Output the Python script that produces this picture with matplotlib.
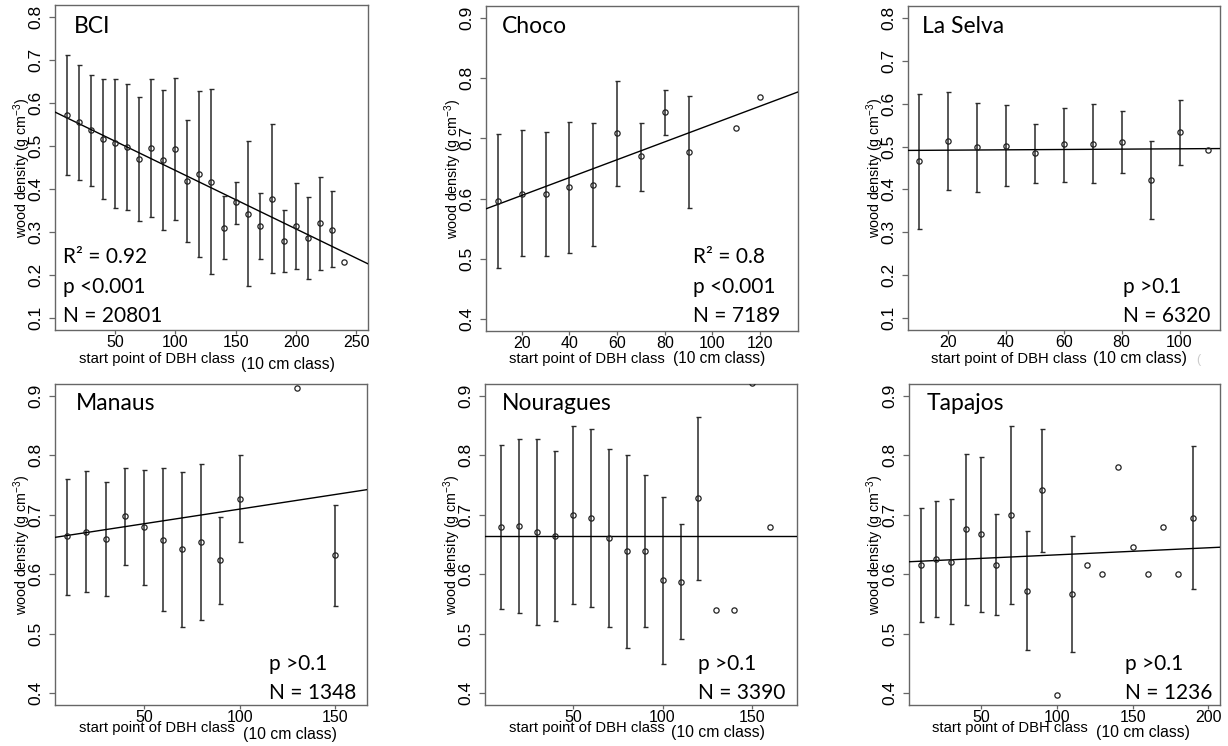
import numpy as np
import matplotlib
matplotlib.use("Agg")
import matplotlib.pyplot as plt

plt.rcParams['font.family'] = ['Liberation Sans', 'DejaVu Sans']
plt.rcParams['mathtext.fontset'] = 'custom'
plt.rcParams['mathtext.rm'] = 'Liberation Sans'
plt.rcParams['mathtext.it'] = 'Liberation Sans:italic'

N = None
# ---------------- data ----------------
bci_x = [10, 20, 30, 40, 50, 60, 70, 80, 90, 100, 110, 120, 130, 140, 150, 160, 170, 180, 190, 200, 210, 220, 230, 240]
bci_mean = [0.573, 0.555, 0.537, 0.516, 0.507, 0.498, 0.470, 0.495, 0.467, 0.492, 0.419, 0.435, 0.417, 0.310,
            0.369, 0.342, 0.314, 0.377, 0.280, 0.313, 0.286, 0.320, 0.305, 0.230]
bci_hi = [0.712, 0.688, 0.666, 0.655, 0.657, 0.645, 0.613, 0.655, 0.630, 0.659, 0.561, 0.628, 0.633, 0.384,
          0.416, 0.511, 0.391, 0.551, 0.352, 0.413, 0.382, 0.428, 0.395, N]
bci_lo = [0.433, 0.421, 0.406, 0.376, 0.356, 0.351, 0.326, 0.334, 0.304, 0.327, 0.277, 0.241, 0.202, 0.236,
          0.319, 0.174, 0.236, 0.204, 0.206, 0.215, 0.191, 0.212, 0.218, N]
bci_fit = (0.5795, -0.001362)

choco_x = [10, 20, 30, 40, 50, 60, 70, 80, 90, 110, 120]
choco_mean = [0.596, 0.608, 0.608, 0.619, 0.623, 0.709, 0.670, 0.744, 0.678, 0.718, 0.769]
choco_hi = [0.707, 0.714, 0.711, 0.728, 0.726, 0.796, 0.726, 0.780, 0.771, N, N]
choco_lo = [0.485, 0.504, 0.504, 0.510, 0.521, 0.621, 0.612, 0.706, 0.585, N, N]
choco_fit = (0.5756, 0.001483)

selva_x = [10, 20, 30, 40, 50, 60, 70, 80, 90, 100, 110]
selva_mean = [0.466, 0.513, 0.499, 0.502, 0.484, 0.505, 0.507, 0.511, 0.422, 0.534, 0.493]
selva_hi = [0.623, 0.628, 0.601, 0.597, 0.552, 0.591, 0.599, 0.584, 0.512, 0.609, N]
selva_lo = [0.307, 0.398, 0.395, 0.408, 0.414, 0.417, 0.415, 0.438, 0.330, 0.458, N]
selva_fit = (0.4908, 0.00004)

manaus_x = [10, 20, 30, 40, 50, 60, 70, 80, 90, 100, 130, 150]
manaus_mean = [0.664, 0.672, 0.660, 0.698, 0.679, 0.658, 0.642, 0.655, 0.624, 0.727, 0.913, 0.632]
manaus_hi = [0.761, 0.773, 0.755, 0.778, 0.775, 0.778, 0.772, 0.786, 0.697, 0.801, N, 0.716]
manaus_lo = [0.566, 0.570, 0.563, 0.616, 0.582, 0.538, 0.511, 0.524, 0.550, 0.654, N, 0.547]
manaus_fit = (0.6605, 0.000492)

noura_x = [10, 20, 30, 40, 50, 60, 70, 80, 90, 100, 110, 120, 130, 140, 150, 160]
noura_mean = [0.679, 0.681, 0.671, 0.665, 0.699, 0.695, 0.661, 0.639, 0.639, 0.590, 0.588, 0.728,
              0.540, 0.540, 0.921, 0.680]
noura_hi = [0.817, 0.828, 0.827, 0.808, 0.849, 0.845, 0.810, 0.800, 0.767, 0.730, 0.684, 0.865, N, N, N, N]
noura_lo = [0.542, 0.535, 0.515, 0.522, 0.550, 0.545, 0.511, 0.477, 0.511, 0.450, 0.492, 0.590, N, N, N, N]
noura_fit = (0.664, 0.0)

tapa_x = [10, 20, 30, 40, 50, 60, 70, 80, 90, 100, 110, 120, 130, 140, 150, 160, 170, 180, 190]
tapa_mean = [0.615, 0.625, 0.621, 0.676, 0.667, 0.615, 0.700, 0.572, 0.741, 0.396, 0.567, 0.616, 0.601,
             0.780, 0.646, 0.601, 0.680, 0.601, 0.695]
tapa_hi = [0.711, 0.723, 0.727, 0.803, 0.797, 0.701, 0.850, 0.673, 0.844, N, 0.664, N, N, N, N, N, N, N, 0.816]
tapa_lo = [0.520, 0.528, 0.517, 0.548, 0.536, 0.531, 0.550, 0.472, 0.637, N, 0.470, N, N, N, N, N, N, N, 0.575]
tapa_fit = (0.6207, 0.000119)

titles = ["BCI", "Choco", "La Selva", "Manaus", "Nouragues", "Tapajos"]
stats = [["R² = 0.92", "p <0.001", "N = 20801"],
         ["R² = 0.8", "p <0.001", "N = 7189"],
         ["p >0.1", "N = 6320"],
         ["p >0.1", "N = 1348"],
         ["p >0.1", "N = 3390"],
         ["p >0.1", "N = 1236"]]
xticks_list = [[50, 100, 150, 200, 250], [20, 40, 60, 80, 100, 120], [20, 40, 60, 80, 100],
               [50, 100, 150], [50, 100, 150], [50, 100, 150, 200]]
yticks_top = [0.1, 0.2, 0.3, 0.4, 0.5, 0.6, 0.7, 0.8]
yticks_choco = [0.4, 0.5, 0.6, 0.7, 0.8, 0.9]

# ---------------- layout ----------------
W, H = 1228, 746
fig = plt.figure(figsize=(W / 100, H / 100), dpi=100)

def fx(x):
    return x / W

def fy(y):
    return 1 - y / H

# (left, top, right, bottom) in pixels
boxes = [(55, 5, 368, 330), (486, 6, 797.7, 331), (907.7, 6, 1220, 330),
         (55, 384, 366.7, 705.3), (485.3, 384, 796.7, 705.3), (909, 384, 1220, 705)]
xlims = [(0.4, 259.6), (5.0, 135.8), (6.0, 114.0), (3.6, 166.4), (1.3, 174.7), (2.4, 207.6)]
ylims = [(0.072, 0.828), (0.38, 0.92), (0.072, 0.828), (0.38, 0.92), (0.38, 0.92), (0.38, 0.92)]
yticks_all = [yticks_top, yticks_choco, yticks_top, yticks_choco, yticks_choco, yticks_choco]

series = [(bci_x, bci_mean, bci_hi, bci_lo, bci_fit),
          (choco_x, choco_mean, choco_hi, choco_lo, choco_fit),
          (selva_x, selva_mean, selva_hi, selva_lo, selva_fit),
          (manaus_x, manaus_mean, manaus_hi, manaus_lo, manaus_fit),
          (noura_x, noura_mean, noura_hi, noura_lo, noura_fit),
          (tapa_x, tapa_mean, tapa_hi, tapa_lo, tapa_fit)]

# title positions (left px, baseline px)
title_pos = [(74, 33), (502, 33), (922, 33), (76, 410), (502, 410), (927, 410)]
# stats text left px and baselines
stat_pos = [(63, [263, 293, 322]), (693, [263, 293, 322]), (1123, [293, 322]),
            (269, [670, 699]), (698, [670, 699]), (1125, [670, 699])]
ylabel_x = [22, 453, 875, 22, 452, 875]
xlabel_pos = [((79, 363), (241, 369)), ((509, 363), (673, 363)), ((931, 363), (1093, 363)),
              ((79, 732), (243, 739)), ((509, 732), (671, 737)), ((932, 732), (1096, 737))]

spine_col = '#666666'
for i in range(6):
    l, t, r, b = boxes[i]
    ax = fig.add_axes([fx(l), fy(b), fx(r) - fx(l), fy(t) - fy(b)])
    x, m, hi, lo, fit = series[i]
    x = np.array(x, float)
    m = np.array(m, float)
    hi = np.array([np.nan if v is None else v for v in hi], float)
    lo = np.array([np.nan if v is None else v for v in lo], float)
    ok = ~np.isnan(hi)
    ax.errorbar(x[ok], m[ok], yerr=[m[ok] - lo[ok], hi[ok] - m[ok]], fmt='none',
                ecolor='#2a2a2a', elinewidth=1.1, capsize=1.8, capthick=1.0, zorder=2)
    ax.axline((0, fit[0]), slope=fit[1], color='black', lw=1.0, zorder=3)
    ax.plot(x, m, 'o', ms=3.8, mfc='none', mec='#222222', mew=0.9, zorder=4)
    ax.set_xlim(*xlims[i])
    ax.set_ylim(*ylims[i])
    ax.set_xticks(xticks_list[i])
    ax.set_yticks(yticks_all[i])
    ax.set_yticklabels([f"{v:.1f}" for v in yticks_all[i]], rotation=90, va='center')
    ax.tick_params(axis='y', length=4.3, width=0.9, color=spine_col, pad=4.0, labelsize=12.5)
    ax.tick_params(axis='x', length=3.0, width=0.9, color=spine_col, pad=0.5, labelsize=11.5)
    for s in ax.spines.values():
        s.set_color(spine_col)
        s.set_linewidth(1.0)
    # title
    tx, tyy = title_pos[i]
    fig.text(fx(tx), fy(tyy), titles[i], family=['Lato', 'DejaVu Sans'], fontsize=16.5, va='baseline', ha='left')
    sx, sys_ = stat_pos[i]
    for txt, yy in zip(stats[i], sys_):
        fig.text(fx(sx), fy(yy), txt, family=['Lato', 'DejaVu Sans'], fontsize=15, va='baseline', ha='left')
    # y label
    fig.text(fx(ylabel_x[i]), fy((t + b) / 2), "wood density (g cm$^{-3}$)", rotation=90,
             ha='center', va='center', fontsize=10.3)
    # x label in two parts
    (x1, y1), (x2, y2) = xlabel_pos[i]
    fig.text(fx(x1), fy(y1), "start point of DBH class", fontsize=10.7, va='baseline', ha='left')
    fig.text(fx(x2), fy(y2), "(10 cm class)", fontsize=11.3 if i != 1 else 11.2, va='baseline', ha='left')

# faint stray mark next to La Selva x label
fig.text(fx(1196), fy(363), "(", fontsize=9, color='#cccccc', va='baseline', ha='left')

fig.savefig("out.png", dpi=100)
